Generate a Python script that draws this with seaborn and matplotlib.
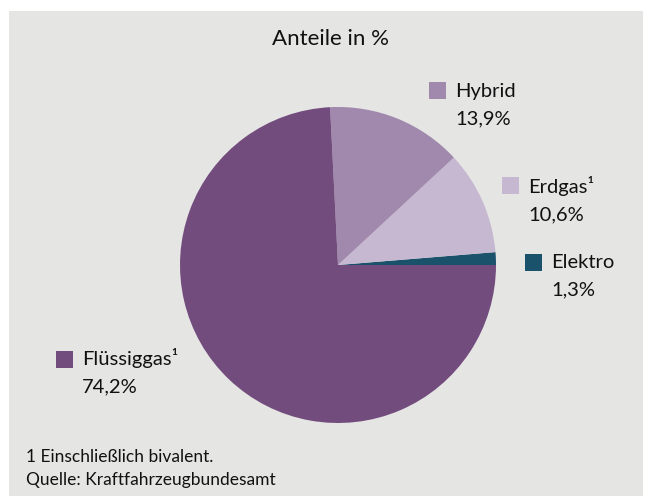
import matplotlib
matplotlib.use("Agg")
import matplotlib.pyplot as plt
from matplotlib.patches import Rectangle
import seaborn as sns

# data
categories = ["Elektro", "Erdgas¹", "Hybrid", "Flüssiggas¹"]
shares = [1.3, 10.6, 13.9, 74.2]
value_labels = ["1,3%", "10,6%", "13,9%", "74,2%"]
colors = ["#1b526b", "#c6b8d0", "#a189ad", "#734c7e"]

title = "Anteile in %"
footnotes = ["1 Einschließlich bivalent.", "Quelle: Kraftfahrzeugbundesamt"]

# label layout in pixels (square left, square top, text baseline)
label_pos = {
    "Elektro": (525, 254, 268),
    "Erdgas¹": (502, 177, 193),
    "Hybrid": (429, 82, 97),
    "Flüssiggas¹": (56, 351, 365),
}

W, H = 646, 496
sns.set_theme(style="white")
plt.rcParams["font.family"] = ["Lato", "DejaVu Sans"]

fig = plt.figure(figsize=(W / 100, H / 100), dpi=100, facecolor="white")

# grey panel
fig.patches.append(Rectangle((9 / W, 0), (643 - 9) / W, (H - 11) / H,
                             transform=fig.transFigure, facecolor="#e5e5e4",
                             edgecolor="none", zorder=-5))

# pie: centre (338, 265), radius 158
cx, cy, r = 338, 265, 158
ax = fig.add_axes([(cx - r) / W, (H - cy - r) / H, 2 * r / W, 2 * r / H])
ax.set_zorder(2)
ax.patch.set_visible(False)
ax.pie(shares, colors=colors, startangle=0, counterclock=True,
       wedgeprops=dict(linewidth=0))
ax.set_xlim(-1, 1)
ax.set_ylim(-1, 1)
ax.set_aspect("equal")
ax.axis("off")

fig.text(331 / W, 1 - 45 / H, title, ha="center", va="baseline",
         fontsize=16, color="#111111")

sq = 17
for cat, val, col in zip(categories, value_labels, colors):
    x, top, base = label_pos[cat]
    fig.patches.append(Rectangle((x / W, 1 - (top + sq) / H), sq / W, sq / H,
                                 transform=fig.transFigure, facecolor=col,
                                 edgecolor="none", zorder=3))
    fig.text((x + sq + 9) / W, 1 - base / H, cat, ha="left", va="baseline",
             fontsize=14.5, color="#111111")
    fig.text((x + sq + 9) / W, 1 - (base + 27) / H, val, ha="left",
             va="baseline", fontsize=14.5, color="#111111")

for i, line in enumerate(footnotes):
    fig.text(26 / W, 1 - (462 + 23 * i) / H, line, ha="left", va="baseline",
             fontsize=12.5, color="#111111")

fig.savefig("out.png", dpi=100, facecolor="white")
